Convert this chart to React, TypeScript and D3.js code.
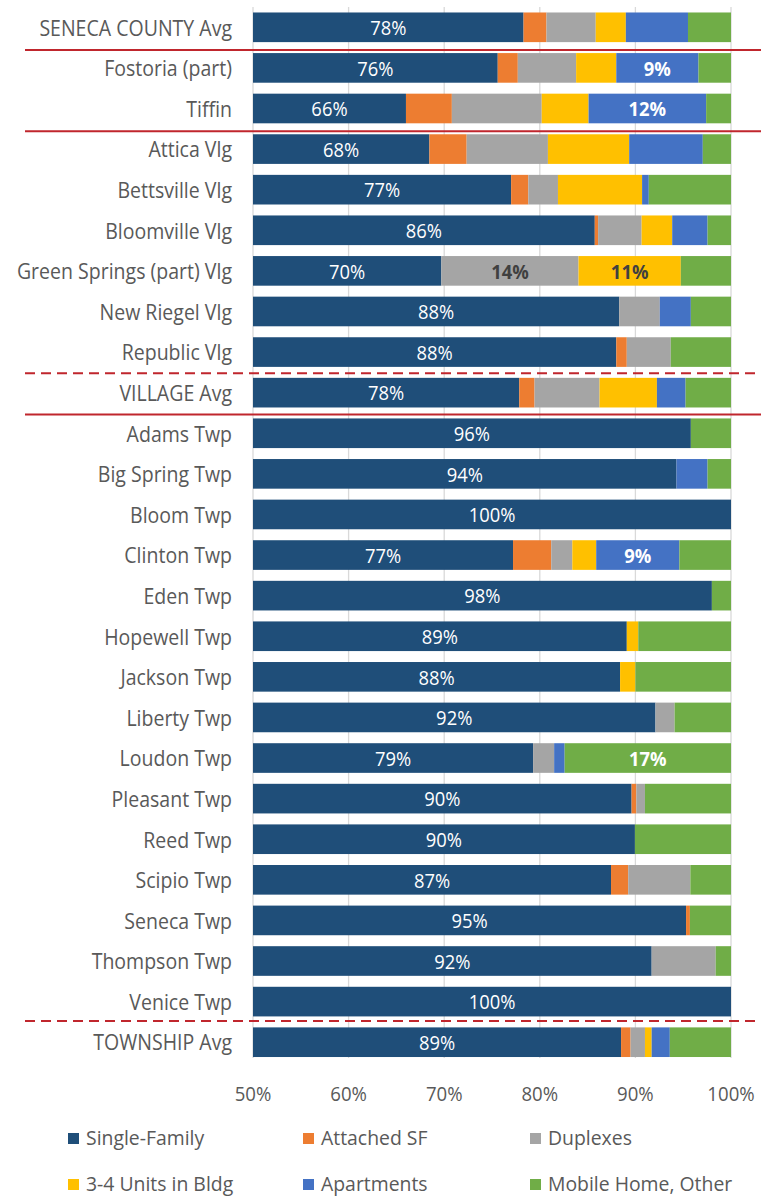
import React from "react";
import * as d3 from "d3";

const categories = [
  "SENECA COUNTY Avg", "Fostoria (part)", "Tiffin", "Attica Vlg", "Bettsville Vlg",
  "Bloomville Vlg", "Green Springs (part) Vlg", "New Riegel Vlg", "Republic Vlg", "VILLAGE Avg",
  "Adams Twp", "Big Spring Twp", "Bloom Twp", "Clinton Twp", "Eden Twp", "Hopewell Twp",
  "Jackson Twp", "Liberty Twp", "Loudon Twp", "Pleasant Twp", "Reed Twp", "Scipio Twp",
  "Seneca Twp", "Thompson Twp", "Venice Twp", "TOWNSHIP Avg",
];

const singleFamily = [78.3, 75.6, 66.0, 68.45, 77.0, 85.75, 69.7, 88.3, 88.0, 77.85, 95.8, 94.3, 100, 77.2, 98.0, 89.1, 88.4, 92.1, 79.3, 89.6, 89.95, 87.45, 95.3, 91.7, 100, 88.5];
const attachedSF = [2.4, 2.1, 4.8, 3.9, 1.8, 0.35, 0, 0, 1.1, 1.6, 0, 0, 0, 4.0, 0, 0, 0, 0, 0, 0.5, 0, 1.8, 0.4, 0, 0, 1.0];
const duplexes = [5.15, 6.1, 9.4, 8.5, 3.1, 4.55, 14.35, 4.25, 4.6, 6.8, 0, 0, 0, 2.2, 0, 0, 0, 2.0, 2.2, 0.9, 0, 6.5, 0, 6.7, 0, 1.5];
const units34 = [3.15, 4.2, 4.9, 8.5, 8.8, 3.2, 10.7, 0, 0, 6.0, 0, 0, 0, 2.5, 0, 1.2, 1.6, 0, 0, 0, 0, 0, 0, 0, 0, 0.7];
const apartments = [6.5, 8.6, 12.3, 7.7, 0.7, 3.7, 0, 3.25, 0, 3.0, 0, 3.25, 0, 8.7, 0, 0, 0, 0, 1.1, 0, 0, 0, 0, 0, 0, 1.9];
const mobileHome = [4.5, 3.4, 2.6, 2.95, 8.6, 2.45, 5.25, 4.2, 6.3, 4.75, 4.2, 2.45, 0, 5.4, 2.0, 9.7, 10.0, 5.9, 17.4, 9.0, 10.05, 4.25, 4.3, 1.6, 0, 6.4];

const seriesNames = ["Single-Family", "Attached SF", "Duplexes", "3-4 Units in Bldg", "Apartments", "Mobile Home, Other"];
const seriesColors = ["#1f4e79", "#ed7d31", "#a5a5a5", "#ffc000", "#4472c4", "#70ad47"];
const seriesValues = [singleFamily, attachedSF, duplexes, units34, apartments, mobileHome];

const tickValues = [50, 60, 70, 80, 90, 100];

// extra labelled segments: [category index, series index]
const labelledSegments: [number, number][] = [[1, 4], [2, 4], [6, 2], [6, 3], [13, 4], [18, 5]];

// separator lines after category index
const solidSeparators = [0, 2, 9];
const dashedSeparators = [8, 24];

const W = 761;
const H = 1197;
const FONT = "'Open Sans', sans-serif";
const TEXT = "#595959";

function SText(props: { x: number; y: number; sx: number; size: number; anchor: string; fill: string; weight?: string; children: React.ReactNode }) {
  return (
    <text transform={`translate(${props.x},${props.y}) scale(${props.sx},1)`} textAnchor={props.anchor}
      dominantBaseline="central" fontSize={props.size} fill={props.fill} fontWeight={props.weight || "normal"}>
      {props.children}
    </text>
  );
}

export default function App() {
  const x = d3.scaleLinear().domain([50, 100]).range([253, 731]);
  const y = d3.scaleBand<string>().domain(categories).range([7, 1062.5]).paddingInner(0.27).paddingOuter(0.135);
  const bw = y.bandwidth();
  const step = y.step();

  const rows = categories.map((c, i) => {
    let acc = 0;
    const segs = seriesValues.map((arr, s) => {
      const v = arr[i];
      const x0 = acc;
      acc += v;
      return { s, v, x0, x1: acc };
    });
    return { c, i, segs };
  });

  const sepY = (after: number, nudge: number) => (y(categories[after]) as number) + bw + (step - bw) / 2 + nudge;

  return (
    <svg width={W} height={H} style={{ position: "absolute", left: 0, top: 0, background: "#fff" }} fontFamily={FONT}>
      <rect width={W} height={H} fill="#fff" />
      {tickValues.map((t) => (
        <line key={t} x1={x(t)} x2={x(t)} y1={7} y2={1058} stroke="#d9d9d9" strokeWidth={1.3} />
      ))}
      {rows.map((r) => {
        const yy = y(r.c) as number;
        return (
          <g key={r.c}>
            {r.segs.map((sg) => {
              const a = Math.max(sg.x0, 50);
              const b = sg.x1;
              if (sg.v <= 0 || b <= 50) return null;
              return <rect key={sg.s} x={x(a)} y={yy} width={Math.max(0, x(Math.min(b, 100)) - x(a))} height={bw} fill={seriesColors[sg.s]} />;
            })}
            <SText x={232} y={yy + bw / 2} sx={0.93} size={21} anchor="end" fill={TEXT}>{r.c}</SText>
            <SText x={(x(50) + x(r.segs[0].x1)) / 2} y={yy + bw / 2} sx={0.92} size={20} anchor="middle" fill="#fff">
              {Math.round(r.segs[0].v) + "%"}
            </SText>
          </g>
        );
      })}
      {labelledSegments.map(([ci, si]) => {
        const r = rows[ci];
        const sg = r.segs[si];
        const yy = y(r.c) as number;
        const dark = si === 2 || si === 3;
        return (
          <SText key={ci + "-" + si} x={(x(sg.x0) + x(sg.x1)) / 2} y={yy + bw / 2} sx={0.92} size={20} anchor="middle"
            weight="bold" fill={dark ? "#404040" : "#fff"}>
            {Math.round(sg.v) + "%"}
          </SText>
        );
      })}
      {solidSeparators.map((a, k) => {
        const yy = sepY(a, a === 9 ? 1.5 : 2.5);
        return <line key={"s" + k} x1={25} x2={761} y1={yy} y2={yy} stroke="#c0262d" strokeWidth={2} />;
      })}
      {dashedSeparators.map((a, k) => {
        const yy = sepY(a, a === 24 ? -1 : 1);
        return <line key={"d" + k} x1={25} x2={761} y1={yy} y2={yy} stroke="#c0262d" strokeWidth={2} strokeDasharray="10 6" />;
      })}
      {tickValues.map((t) => (
        <SText key={"t" + t} x={x(t)} y={1093} sx={0.93} size={20} anchor="middle" fill={TEXT}>{t + "%"}</SText>
      ))}
      {seriesNames.map((n, i) => {
        const col = i % 3;
        const row = Math.floor(i / 3);
        const lx = [68, 303, 530][col];
        const ly = 1137 + row * 46;
        return (
          <g key={n}>
            <rect x={lx} y={ly - 4} width={11} height={11} fill={seriesColors[i]} />
            <SText x={lx + 18} y={ly} sx={0.97} size={20} anchor="start" fill={TEXT}>{n}</SText>
          </g>
        );
      })}
    </svg>
  );
}
